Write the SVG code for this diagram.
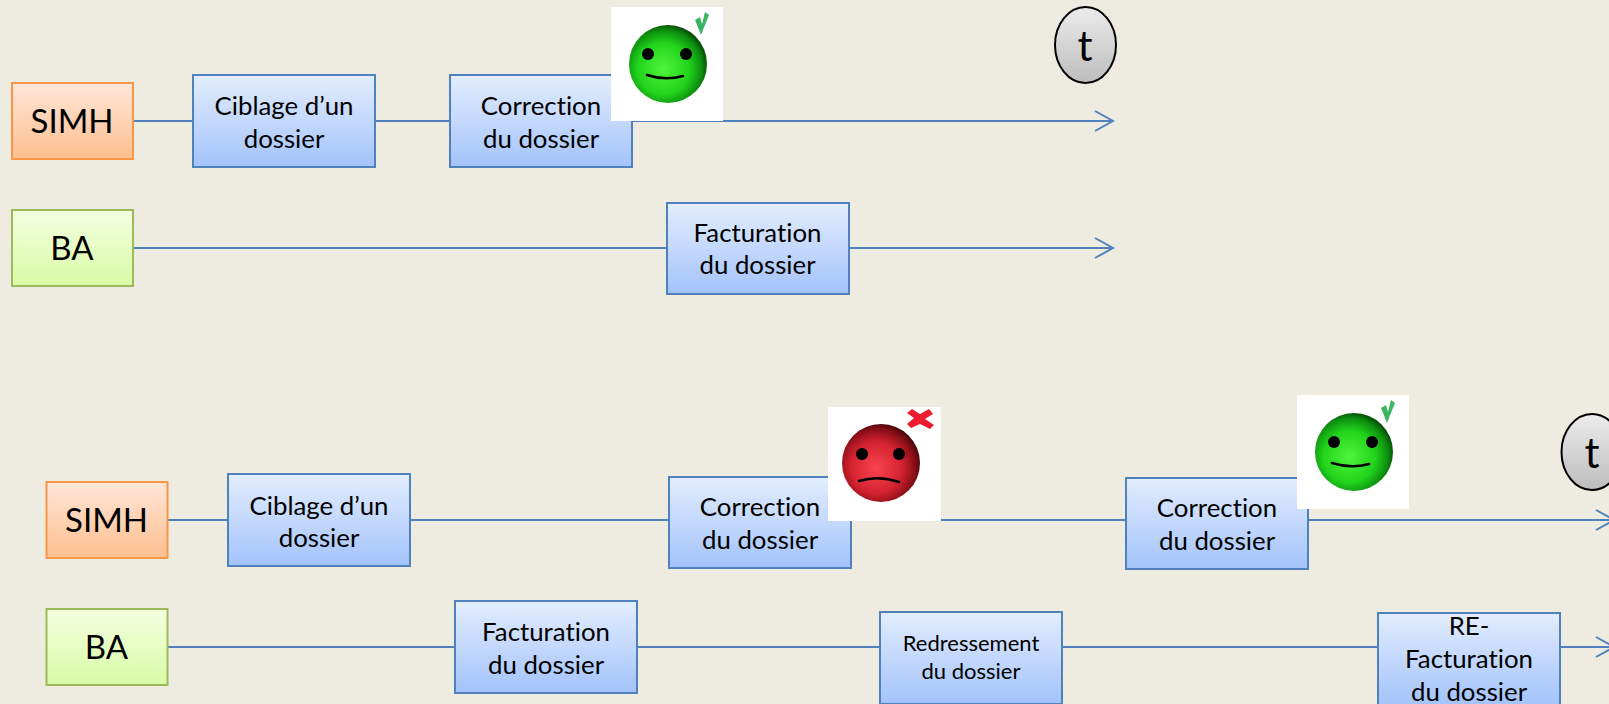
<svg xmlns="http://www.w3.org/2000/svg" width="1609" height="704" viewBox="0 0 1609 704">
<style>
text{font-family:"Lato","Open Sans","Liberation Sans",sans-serif;fill:#000;text-anchor:middle;font-variant-ligatures:none}
.b{fill:url(#gb);stroke:#4f81bd;stroke-width:2}
.o{fill:url(#go);stroke:#f79646;stroke-width:2}
.g{fill:url(#gg);stroke:#9bbb59;stroke-width:2}
.t{fill:url(#gt);stroke:#000;stroke-width:2}
.l{font-size:33px}.s{font-size:25.800px}.xs{font-size:22px}.tt{font-size:42px}
.c{fill:none;stroke:#4f81bd;stroke-width:2}
.w{fill:#fff}
.e{fill:#000}
.m{fill:none;stroke:#000;stroke-width:2.600;stroke-linecap:round}
</style>
<defs>
<linearGradient id="gb" x1="0" y1="0" x2="0" y2="1"><stop offset="0" stop-color="#e3edfd"/><stop offset="1" stop-color="#a3c3fb"/></linearGradient>
<linearGradient id="go" x1="0" y1="0" x2="0" y2="1"><stop offset="0" stop-color="#ffe6d8"/><stop offset="1" stop-color="#fdbf8f"/></linearGradient>
<linearGradient id="gg" x1="0" y1="0" x2="0" y2="1"><stop offset="0" stop-color="#f4ffe0"/><stop offset="1" stop-color="#d9fba6"/></linearGradient>
<linearGradient id="gt" x1="0" y1="0" x2="0" y2="1"><stop offset="0" stop-color="#ececec"/><stop offset="1" stop-color="#bdbdbd"/></linearGradient>
<radialGradient id="fg" cx="0.44" cy="0.56" r="0.66"><stop offset="0" stop-color="#50f53c"/><stop offset="0.5" stop-color="#22d41c"/><stop offset="0.75" stop-color="#0c8e0e"/><stop offset="1" stop-color="#000500"/></radialGradient>
<radialGradient id="fr" cx="0.44" cy="0.56" r="0.66"><stop offset="0" stop-color="#fb4450"/><stop offset="0.5" stop-color="#d42230"/><stop offset="0.75" stop-color="#8a0e16"/><stop offset="1" stop-color="#050000"/></radialGradient>
<marker id="a" markerUnits="userSpaceOnUse" markerWidth="22" markerHeight="26" refX="19" refY="12" orient="auto"><path d="M1 2L19 12L1 22" fill="none" stroke="#4f81bd" stroke-width="2"/></marker>
</defs>
<rect width="1609" height="704" fill="#eeece1"/>
<g id="connectors">
<path class="c" d="M134 121H193M375 121H450M632 121H1113" marker-end="url(#a)"/>
<path class="c" d="M134 248H667M850 248H1113" marker-end="url(#a)"/>
<path class="c" d="M168 520H228M410 520H669M851 520H1126M1308 520H1614" marker-end="url(#a)"/>
<path class="c" d="M168 647H455M637 647H880M1062 647H1378M1560 647H1614" marker-end="url(#a)"/>
</g>
<g id="simh1"><rect class="o" x="12" y="83" width="121" height="76"/><text class="l" x="72" y="133">SIMH</text></g>
<g id="ba1"><rect class="g" x="12" y="210" width="121" height="76"/><text class="l" x="72" y="260">BA</text></g>
<g id="ciblage1"><rect class="b" x="193" y="75" width="182" height="92"/><text class="s" x="284" y="115">Ciblage d’un</text><text class="s" x="284" y="148">dossier</text></g>
<g id="correction1"><rect class="b" x="450" y="75" width="182" height="92"/><text class="s" x="541" y="115">Correction</text><text class="s" x="541" y="148">du dossier</text></g>
<g id="facturation1"><rect class="b" x="667" y="203" width="182" height="91"/><text class="s" x="757.500" y="242">Facturation</text><text class="s" x="757.500" y="274">du dossier</text></g>
<g id="smile1"><rect class="w" x="611" y="7" width="112" height="114"/><circle cx="668" cy="64" r="39" fill="url(#fg)"/><circle class="e" cx="648" cy="54" r="6"/><circle class="e" cx="686" cy="54" r="6"/><path class="m" d="M647 75Q665 81 683 76"/><path d="M695 20L700 17L702 24L705 12L709 15L701 35Z" fill="#3cb563"/></g>
<g id="t1"><ellipse class="t" cx="1085.500" cy="45" rx="30.500" ry="38"/><text class="tt" x="1085" y="61">t</text></g>
<g id="simh2"><rect class="o" x="46.500" y="482" width="121" height="76"/><text class="l" x="106.500" y="532">SIMH</text></g>
<g id="ba2"><rect class="g" x="46.500" y="609" width="121" height="76"/><text class="l" x="106.500" y="659">BA</text></g>
<g id="ciblage2"><rect class="b" x="228" y="474" width="182" height="92"/><text class="s" x="319" y="515">Ciblage d’un</text><text class="s" x="319" y="547">dossier</text></g>
<g id="correction2"><rect class="b" x="669" y="477" width="182" height="91"/><text class="s" x="760" y="516">Correction</text><text class="s" x="760" y="549">du dossier</text></g>
<g id="correction3"><rect class="b" x="1126" y="478" width="182" height="91"/><text class="s" x="1217" y="517">Correction</text><text class="s" x="1217" y="550">du dossier</text></g>
<g id="facturation2"><rect class="b" x="455" y="601" width="182" height="92"/><text class="s" x="546" y="641">Facturation</text><text class="s" x="546" y="674">du dossier</text></g>
<g id="redressement"><rect class="b" x="880" y="612" width="182" height="92"/><text class="xs" x="971" y="651">Redressement</text><text class="xs" x="971" y="679">du dossier</text></g>
<g id="refacturation"><rect class="b" x="1378" y="613" width="182" height="92"/><text class="s" x="1469" y="635">RE-</text><text class="s" x="1469" y="668">Facturation</text><text class="s" x="1469" y="701">du dossier</text></g>
<g id="frown"><rect class="w" x="828" y="407" width="113" height="114"/><circle cx="881" cy="463" r="39" fill="url(#fr)"/><circle class="e" cx="862" cy="454" r="6"/><circle class="e" cx="899" cy="454" r="6"/><path class="m" d="M859 481Q879 475 899 482"/><path d="M907 413L912 409L920 414L929 409L933 414L925 419L934 425L930 429L920 424L911 428L907 424L914 418Z" fill="#ed1c2e"/></g>
<g id="smile2"><rect class="w" x="1297" y="395" width="112" height="114"/><circle cx="1354" cy="452" r="39" fill="url(#fg)"/><circle class="e" cx="1334" cy="442" r="6"/><circle class="e" cx="1372" cy="442" r="6"/><path class="m" d="M1332 463Q1351 469 1369 464"/><path d="M1381 408L1386 405L1388 412L1391 400L1395 403L1387 423Z" fill="#3cb563"/></g>
<g id="t2"><ellipse class="t" cx="1592" cy="452" rx="30.500" ry="38"/><text class="tt" x="1592" y="468">t</text></g>
</svg>
